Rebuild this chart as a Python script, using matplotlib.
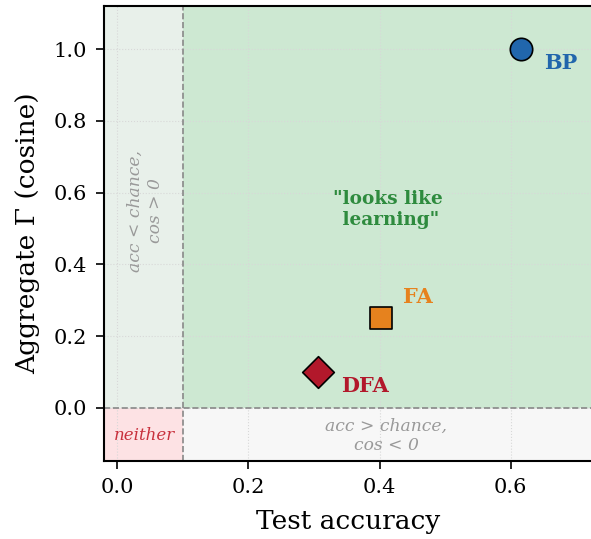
import matplotlib.pyplot as plt

# data
methods = ["BP", "FA", "DFA"]
test_acc = [0.615, 0.402, 0.306]
gamma_cos = [1.0, 0.25, 0.10]
colors = ["#2166ac", "#e6821e", "#b2182b"]
markers = ["o", "s", "D"]
label_offsets = [(0.061, -0.04), (0.056, 0.06), (0.072, -0.04)]
chance = 0.1

plt.rcParams['font.family'] = 'DejaVu Serif'

fig = plt.figure(figsize=(5.91, 5.39), dpi=100)
ax = fig.add_axes([0.176, 0.1447, 0.827, 0.844])

xmin, xmax = -0.02, 0.725
ymin, ymax = -0.148, 1.12

# region shading
ax.axvspan(chance, xmax, ymin=(0 - ymin) / (ymax - ymin), ymax=1, color="#cde8d2", lw=0, zorder=0)
ax.axvspan(xmin, chance, ymin=(0 - ymin) / (ymax - ymin), ymax=1, color="#e8f0ea", lw=0, zorder=0)
ax.axvspan(xmin, chance, ymin=0, ymax=(0 - ymin) / (ymax - ymin), color="#fde2e4", lw=0, zorder=0)
ax.axvspan(chance, xmax, ymin=0, ymax=(0 - ymin) / (ymax - ymin), color="#f7f7f7", lw=0, zorder=0)

ax.axvline(chance, color="#888888", ls="--", lw=1.2, zorder=1)
ax.axhline(0, color="#888888", ls="--", lw=1.2, zorder=1)

ax.grid(True, ls=":", color="#d8d8d8", lw=0.8, zorder=0.5)
ax.set_axisbelow(True)

for name, x, y, c, m, (dx, dy) in zip(methods, test_acc, gamma_cos, colors, markers, label_offsets):
    ax.scatter(x, y, s=260, marker=m, color=c, edgecolor="black", linewidth=1.2, zorder=3)
    ax.text(x + dx, y + dy, name, color=c, fontsize=15, fontweight="bold", ha="center", va="center", zorder=4)

ax.text(0.413, 0.552, '"looks like\n learning"', color="#2e8b3e", fontsize=13.3, fontweight="bold",
        ha="center", va="center")
ax.text(0.0434, 0.55, "acc < chance,\ncos > 0", color="#999999", fontsize=12.3, style="italic",
        rotation=90, ha="center", va="center")
ax.text(0.041, -0.078, "neither", color="#c8303c", fontsize=12, style="italic", ha="center", va="center")
ax.text(0.41, -0.078, "acc > chance,\ncos < 0", color="#999999", fontsize=12.3, style="italic",
        ha="center", va="center")

ax.set_xlim(xmin, xmax)
ax.set_ylim(ymin, ymax)
ax.set_xticks([0.0, 0.2, 0.4, 0.6])
ax.set_yticks([0.0, 0.2, 0.4, 0.6, 0.8, 1.0])
ax.tick_params(labelsize=15, length=6, width=1.2, pad=6)
for s in ax.spines.values():
    s.set_linewidth(1.5)

ax.set_xlabel("Test accuracy", fontsize=19, labelpad=9)
ax.set_ylabel("Aggregate Γ (cosine)", fontsize=19, labelpad=10)

fig.savefig("out.png", dpi=100)
